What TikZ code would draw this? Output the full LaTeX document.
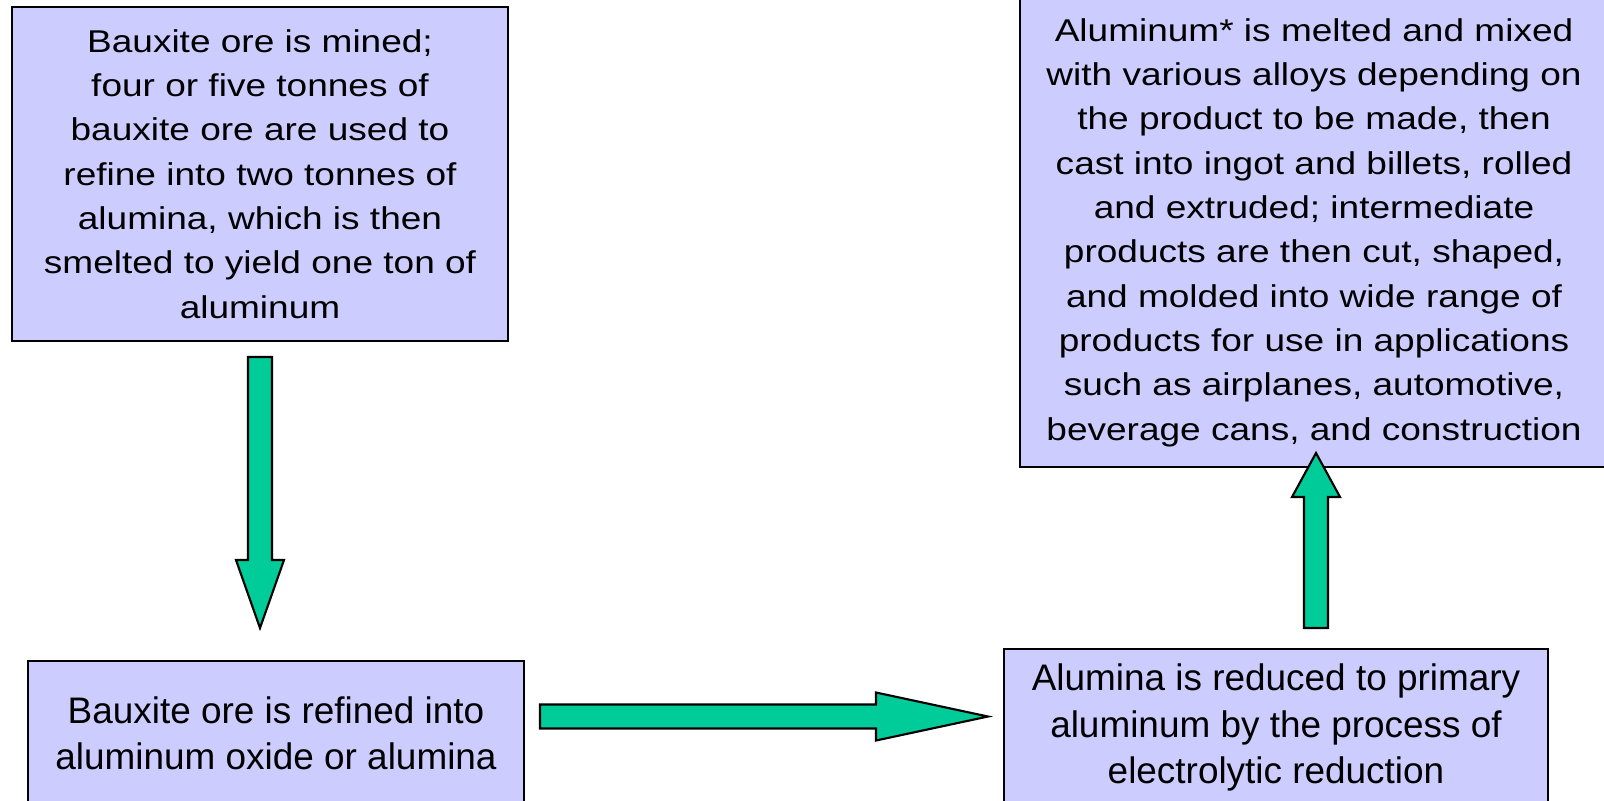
\documentclass[tikz,border=0pt]{standalone}
\usepackage{fontspec}
\setmainfont{Liberation Sans}
\newfontfamily\widefont[FakeStretch=1.175]{Liberation Sans}
\usepackage{tikz}
\usetikzlibrary{positioning}

\definecolor{boxfill}{HTML}{CCCCFF}
\definecolor{flowgreen}{HTML}{00CC99}

\begin{document}
\begin{tikzpicture}[
		x=0.01cm, y=-0.01cm,
		stepbox/.style={rectangle,draw=black,fill=boxfill,line width=0.6pt,
			align=center,inner sep=0pt},
		topbox/.style={stepbox,font=\widefont\fontsize{8.96}{12.6}\selectfont},
		lowbox/.style={stepbox,font=\fontsize{10.5}{13.1}\selectfont},
		flow/.style={draw=black,fill=flowgreen,line width=0.6pt,line join=miter}]
		\useasboundingbox (0,0) rectangle (1604,800);
		\clip (0,0) rectangle (1604,800);

		\node[topbox, minimum width=4.96cm, minimum height=3.34cm] (mine) at (260,174)
			{Bauxite ore is mined;\\ four or five tonnes of\\ bauxite ore are used to\\
			 refine into two tonnes of\\ alumina, which is then\\ smelted to yield one ton of\\ aluminum};
		\node[lowbox, minimum width=4.96cm, minimum height=1.45cm] (refine) at (276,733.5)
			{Bauxite ore is refined into\\ aluminum oxide or alumina};
		\node[lowbox, minimum width=5.44cm, minimum height=1.57cm] (reduce) at (1276,727.5)
			{Alumina is reduced to primary\\ aluminum by the process of\\ electrolytic reduction};
		\node[topbox, minimum width=5.88cm, minimum height=4.69cm] (cast) at (1314,232.5)
			{Aluminum* is melted and mixed\\ with various alloys depending on\\ the product to be made, then\\
			 cast into ingot and billets, rolled\\ and extruded; intermediate\\ products are then cut, shaped,\\
			 and molded into wide range of\\ products for use in applications\\ such as airplanes, automotive,\\
			 beverage cans, and construction};

		% block arrows
		\filldraw[flow] (248,357) -- (272,357) -- (272,560) -- (284,560) -- (260,628)
			-- (236,560) -- (248,560) -- cycle;
		\filldraw[flow] (540,704.5) -- (876,704.5) -- (876,692.5) -- (988,716.5)
			-- (876,740.5) -- (876,728.5) -- (540,728.5) -- cycle;
		\filldraw[flow] (1304,628) -- (1328,628) -- (1328,497) -- (1340,497) -- (1316,453)
			-- (1292,497) -- (1304,497) -- cycle;
\end{tikzpicture}
\end{document}
